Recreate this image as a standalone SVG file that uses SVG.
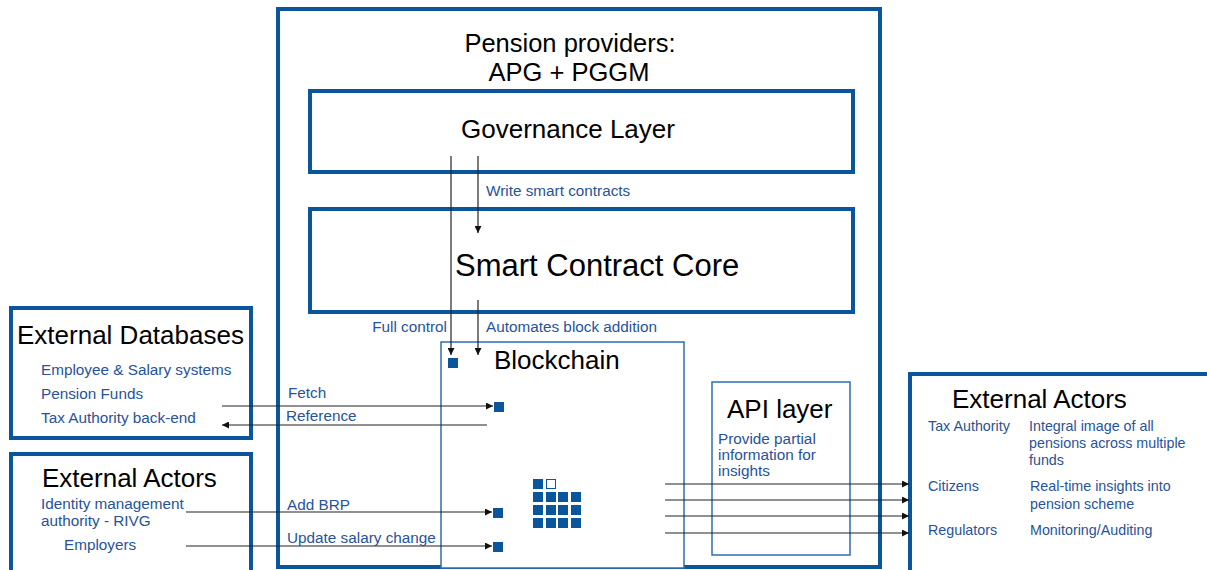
<svg xmlns="http://www.w3.org/2000/svg" width="1207" height="570" viewBox="0 0 1207 570">
<defs>
<style>
.box{fill:#fff;stroke:#0B559C;stroke-width:4}
.thin{fill:#fff;stroke:#2F6DB0;stroke-width:1.5}
.title{font-family:"Liberation Sans",Arial,sans-serif;fill:#000}
.lbl{font-family:"Liberation Sans",Arial,sans-serif;fill:#27539A;font-size:15.3px}
.sm{font-size:14.3px}
.sq{fill:#0B559C}
.con{stroke:#222;stroke-width:1.2;fill:none}
</style>
<marker id="ah" viewBox="0 0 10 10" refX="10" refY="5" markerWidth="7" markerHeight="7" orient="auto" markerUnits="userSpaceOnUse">
<path d="M0,0 L10,5 L0,10 z" fill="#111"/>
</marker>
</defs>
<rect width="1207" height="570" fill="#fff"/>

<g id="pension-providers">
<rect class="box" x="278" y="9" width="602" height="558"/>
<text class="title" x="570" y="52" font-size="25.5" text-anchor="middle">Pension providers:</text>
<text class="title" x="569" y="81" font-size="25.5" text-anchor="middle">APG + PGGM</text>
</g>

<g id="governance-layer">
<rect class="box" x="310" y="91" width="543" height="81"/>
<text class="title" x="568" y="138" font-size="26" text-anchor="middle">Governance Layer</text>
</g>

<g id="smart-contract-core">
<rect class="box" x="310" y="209" width="543" height="103"/>
<text class="title" x="455" y="276" font-size="31">Smart Contract Core</text>
</g>

<g id="blockchain">
<rect class="thin" x="441" y="342" width="243" height="226"/>
<text class="title" x="494" y="369" font-size="26">Blockchain</text>
<rect class="sq" x="448" y="358" width="10" height="10"/>
<rect class="sq" x="494" y="402" width="10" height="10"/>
<rect class="sq" x="493" y="508" width="10" height="10"/>
<rect class="sq" x="493" y="542" width="10" height="10"/>
<g id="block-grid">
<rect class="sq" x="533" y="479" width="10" height="10"/>
<rect x="546.5" y="479.5" width="9" height="9" fill="#fff" stroke="#0B559C" stroke-width="1"/>
<rect class="sq" x="533" y="492" width="10" height="10"/>
<rect class="sq" x="546" y="492" width="10" height="10"/>
<rect class="sq" x="558" y="492" width="10" height="10"/>
<rect class="sq" x="571" y="492" width="10" height="10"/>
<rect class="sq" x="533" y="505" width="10" height="10"/>
<rect class="sq" x="546" y="505" width="10" height="10"/>
<rect class="sq" x="558" y="505" width="10" height="10"/>
<rect class="sq" x="571" y="505" width="10" height="10"/>
<rect class="sq" x="533" y="518" width="10" height="10"/>
<rect class="sq" x="546" y="518" width="10" height="10"/>
<rect class="sq" x="558" y="518" width="10" height="10"/>
<rect class="sq" x="571" y="518" width="10" height="10"/>
</g>
</g>

<g id="api-layer">
<rect class="thin" x="712" y="382" width="138" height="173"/>
<text class="title" x="727" y="418" font-size="26">API layer</text>
<text class="lbl" x="718" y="444">Provide partial</text>
<text class="lbl" x="718" y="460">information for</text>
<text class="lbl" x="718" y="476">insights</text>
</g>

<g id="external-databases">
<rect class="box" x="11" y="308" width="240" height="130"/>
<text class="title" x="17" y="344" font-size="26">External Databases</text>
<text class="lbl" x="41" y="375">Employee &amp; Salary systems</text>
<text class="lbl" x="41" y="399">Pension Funds</text>
<text class="lbl" x="41" y="423">Tax Authority back-end</text>
</g>

<g id="external-actors-left">
<rect class="box" x="11" y="454" width="240" height="130"/>
<text class="title" x="42" y="487" font-size="26">External Actors</text>
<text class="lbl" x="41" y="509">Identity management</text>
<text class="lbl" x="41" y="526">authority  - RIVG</text>
<text class="lbl" x="64" y="550">Employers</text>
</g>

<g id="external-actors-right">
<rect class="box" x="910" y="374" width="310" height="210"/>
<text class="title" x="952" y="408" font-size="26">External Actors</text>
<text class="lbl sm" x="928" y="431">Tax Authority</text>
<text class="lbl sm" x="1029" y="431">Integral image of all</text>
<text class="lbl sm" x="1029" y="448">pensions across multiple</text>
<text class="lbl sm" x="1029" y="465">funds</text>
<text class="lbl sm" x="928" y="491">Citizens</text>
<text class="lbl sm" x="1030" y="491">Real-time insights into</text>
<text class="lbl sm" x="1030" y="509">pension scheme</text>
<text class="lbl sm" x="928" y="535">Regulators</text>
<text class="lbl sm" x="1030" y="535">Monitoring/Auditing</text>
</g>

<g id="connectors">
<line class="con" x1="451" y1="156" x2="451" y2="355" stroke="#555" marker-end="url(#ah)"/>
<line class="con" x1="478" y1="156" x2="478" y2="233" marker-end="url(#ah)"/>
<line class="con" x1="478" y1="300" x2="478" y2="355" marker-end="url(#ah)"/>
<line class="con" x1="222" y1="406" x2="493" y2="406" marker-end="url(#ah)"/>
<line class="con" x1="487" y1="425" x2="222" y2="425" marker-end="url(#ah)"/>
<line class="con" x1="186" y1="512" x2="492" y2="512" marker-end="url(#ah)"/>
<line class="con" x1="186" y1="546" x2="492" y2="546" marker-end="url(#ah)"/>
<line class="con" x1="665" y1="484" x2="909" y2="484" marker-end="url(#ah)"/>
<line class="con" x1="665" y1="500" x2="909" y2="500" marker-end="url(#ah)"/>
<line class="con" x1="665" y1="516" x2="909" y2="516" marker-end="url(#ah)"/>
<line class="con" x1="665" y1="533" x2="909" y2="533" marker-end="url(#ah)"/>
<text class="lbl" x="486" y="196">Write smart contracts</text>
<text class="lbl" x="447" y="332" text-anchor="end">Full control</text>
<text class="lbl" x="486" y="332">Automates block addition</text>
<text class="lbl" x="288" y="398">Fetch</text>
<text class="lbl" x="286" y="421">Reference</text>
<text class="lbl" x="287" y="510">Add BRP</text>
<text class="lbl" x="287" y="543">Update salary change</text>
</g>
</svg>
